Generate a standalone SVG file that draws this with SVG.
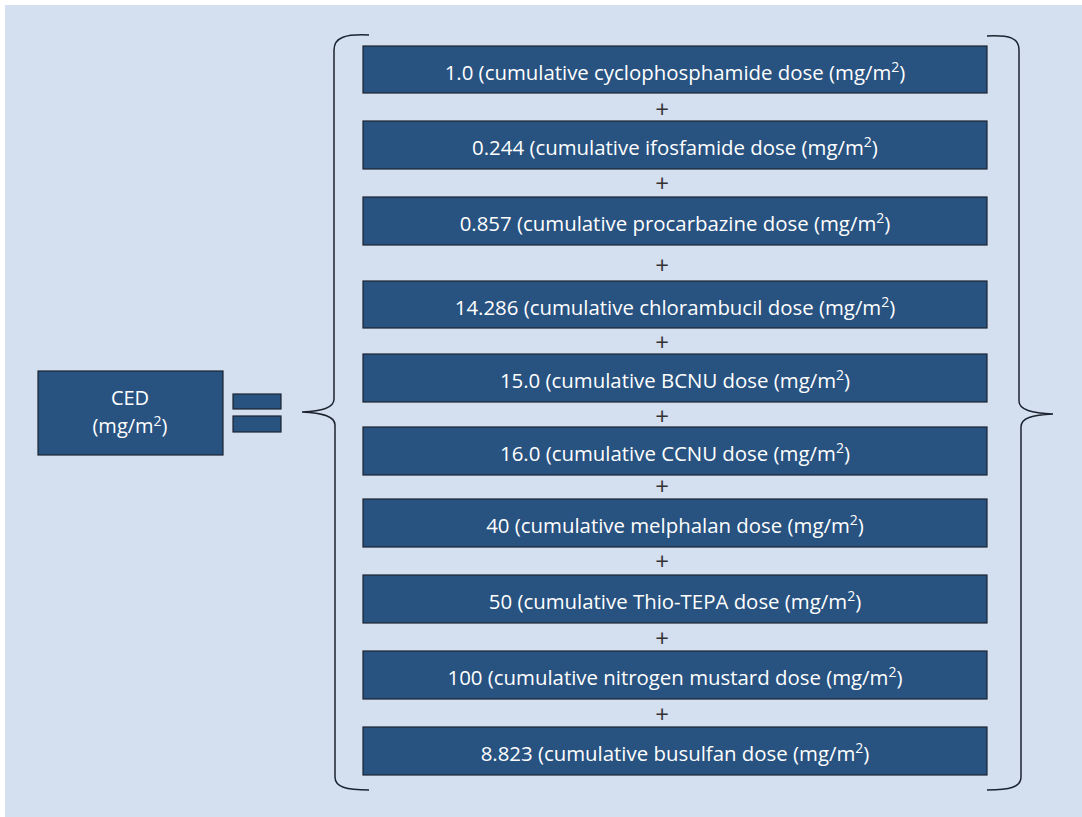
<svg xmlns="http://www.w3.org/2000/svg" width="1082" height="817" viewBox="0 0 1082 817">
<defs>
<style>
.bg{fill:#d4dff0}
.box{fill:#285280;stroke:#1c2430;stroke-width:1.2}
.t{font-family:"Open Sans","Liberation Sans",Arial,sans-serif;font-size:20.4px;fill:#ffffff;text-anchor:middle}
.p{font-family:"Open Sans","Liberation Sans",Arial,sans-serif;font-size:24px;fill:#333333;text-anchor:middle}
.sup{font-size:14px}
.brace{fill:none;stroke:#1c2430;stroke-width:1.5}
</style>
</defs>
<rect x="0" y="0" width="1082" height="817" fill="#ffffff"/>
<rect class="bg" x="5" y="5" width="1077" height="812"/>

<g id="connectors">
<path class="brace" d="M369,35 C346,34 334,37 334,50 L334,399 C334,408 322,411 302,412 C322,413 335,416 335,425 L335,777 C335,787 346,790 369,790"/>
<path class="brace" d="M987,36 C1010,35 1019,38 1019,50 L1019,401 C1019,410 1032,413 1053,414 C1032,415 1021,418 1021,427 L1021,777 C1021,787 1010,790 987,790"/>
<g id="plus">
<text class="p" x="662" y="117.5">+</text>
<text class="p" x="662" y="191.5">+</text>
<text class="p" x="662" y="273.5">+</text>
<text class="p" x="662" y="350.5">+</text>
<text class="p" x="662" y="424.5">+</text>
<text class="p" x="662" y="494.5">+</text>
<text class="p" x="662" y="569.5">+</text>
<text class="p" x="662" y="646.5">+</text>
<text class="p" x="662" y="722.5">+</text>
</g>
</g>

<g id="ced">
<rect class="box" x="38" y="371" width="185" height="84"/>
<text class="t" x="130" y="405" style="font-size:20px">CED</text>
<text class="t" x="130" y="433" style="font-size:20px">(mg/m<tspan class="sup" dy="-7">2</tspan><tspan dy="7">)</tspan></text>
</g>

<g id="equals">
<rect class="box" x="233" y="394" width="48" height="15"/>
<rect class="box" x="233" y="416" width="48" height="16"/>
</g>

<g id="term1">
<rect class="box" x="363" y="46" width="624" height="47"/>
<text class="t" x="675" y="80">1.0 (cumulative cyclophosphamide dose (mg/m<tspan class="sup" dy="-8">2</tspan><tspan dy="8">)</tspan></text>
</g>
<g id="term2">
<rect class="box" x="363" y="121" width="624" height="48"/>
<text class="t" x="675" y="155">0.244 (cumulative ifosfamide dose (mg/m<tspan class="sup" dy="-8">2</tspan><tspan dy="8">)</tspan></text>
</g>
<g id="term3">
<rect class="box" x="363" y="197" width="624" height="48"/>
<text class="t" x="675" y="231">0.857 (cumulative procarbazine dose (mg/m<tspan class="sup" dy="-8">2</tspan><tspan dy="8">)</tspan></text>
</g>
<g id="term4">
<rect class="box" x="363" y="281" width="624" height="47"/>
<text class="t" x="675" y="315">14.286 (cumulative chlorambucil dose (mg/m<tspan class="sup" dy="-8">2</tspan><tspan dy="8">)</tspan></text>
</g>
<g id="term5">
<rect class="box" x="363" y="354" width="624" height="48"/>
<text class="t" x="675" y="388">15.0 (cumulative BCNU dose (mg/m<tspan class="sup" dy="-8">2</tspan><tspan dy="8">)</tspan></text>
</g>
<g id="term6">
<rect class="box" x="363" y="427" width="624" height="48"/>
<text class="t" x="675" y="461">16.0 (cumulative CCNU dose (mg/m<tspan class="sup" dy="-8">2</tspan><tspan dy="8">)</tspan></text>
</g>
<g id="term7">
<rect class="box" x="363" y="499" width="624" height="48"/>
<text class="t" x="675" y="533">40 (cumulative melphalan dose (mg/m<tspan class="sup" dy="-8">2</tspan><tspan dy="8">)</tspan></text>
</g>
<g id="term8">
<rect class="box" x="363" y="575" width="624" height="48"/>
<text class="t" x="675" y="609">50 (cumulative Thio-TEPA dose (mg/m<tspan class="sup" dy="-8">2</tspan><tspan dy="8">)</tspan></text>
</g>
<g id="term9">
<rect class="box" x="363" y="651" width="624" height="48"/>
<text class="t" x="675" y="685">100 (cumulative nitrogen mustard dose (mg/m<tspan class="sup" dy="-8">2</tspan><tspan dy="8">)</tspan></text>
</g>
<g id="term10">
<rect class="box" x="363" y="727" width="624" height="48"/>
<text class="t" x="675" y="761">8.823 (cumulative busulfan dose (mg/m<tspan class="sup" dy="-8">2</tspan><tspan dy="8">)</tspan></text>
</g>
</svg>
